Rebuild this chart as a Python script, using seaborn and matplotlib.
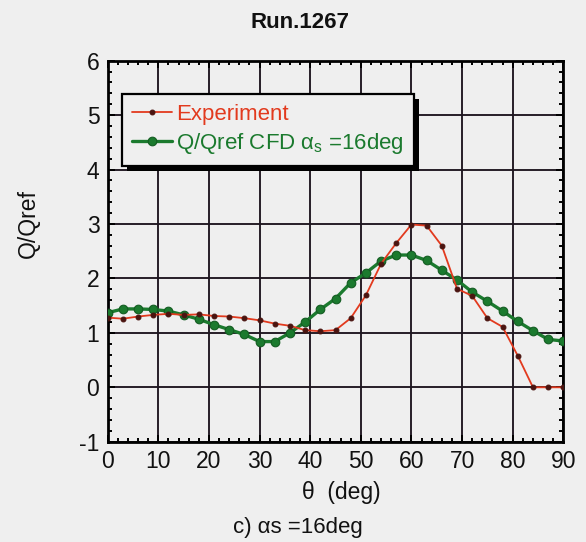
import matplotlib
matplotlib.use("Agg")
import matplotlib.pyplot as plt
from matplotlib.patches import Rectangle
from matplotlib.ticker import MultipleLocator
import numpy as np
import pandas as pd
import seaborn as sns

# Heat-flux ratio along the circumference, run 1267
theta_deg = [0, 3, 6, 9, 12, 15, 18, 21, 24, 27, 30, 33, 36, 39, 42, 45,
             48, 51, 54, 57, 60, 63, 66, 69, 72, 75, 78, 81, 84, 87, 90]
experiment = [1.28, 1.26, 1.30, 1.33, 1.35, 1.33, 1.34, 1.31, 1.30, 1.27,
              1.23, 1.17, 1.13, 1.05, 1.03, 1.05, 1.27, 1.69, 2.27, 2.65,
              2.99, 2.97, 2.60, 1.81, 1.68, 1.27, 1.11, 0.58, 0.0, 0.0, 0.0]
cfd = [1.37, 1.44, 1.44, 1.43, 1.40, 1.33, 1.25, 1.15, 1.06, 0.97,
       0.84, 0.84, 1.00, 1.20, 1.43, 1.63, 1.92, 2.10, 2.32, 2.43,
       2.43, 2.33, 2.15, 1.97, 1.75, 1.58, 1.40, 1.21, 1.04, 0.88, 0.85]

x_ticks = [0, 10, 20, 30, 40, 50, 60, 70, 80, 90]
y_ticks = [-1, 0, 1, 2, 3, 4, 5, 6]

label_exp = "Experiment"
label_cfd = r"Q/Qref CFD $\alpha_s$ =16deg"

RED = "#e23a1e"
GREEN = "#1b7a2e"
BG = "#efefef"
INK = "#1e1620"

sns.set_theme(style="ticks")
plt.rcParams["font.family"] = ["Liberation Sans", "DejaVu Sans"]
plt.rcParams["mathtext.fontset"] = "custom"
plt.rcParams["mathtext.rm"] = "Liberation Sans"
plt.rcParams["mathtext.it"] = "Liberation Sans"
plt.rcParams["axes.unicode_minus"] = False

df = pd.DataFrame({"theta": theta_deg, "exp": experiment, "cfd": cfd})

fig = plt.figure(figsize=(5.86, 5.42), dpi=100, facecolor=BG)
ax = fig.add_axes([0.1838, 0.185, 0.7775, 0.703])
ax.set_facecolor(BG)

sns.lineplot(data=df, x="theta", y="cfd", ax=ax, color=GREEN, lw=2.4,
             marker="o", markersize=6.2, markerfacecolor=GREEN,
             markeredgecolor="#145c22", markeredgewidth=0.8,
             label=label_cfd, zorder=3)
sns.lineplot(data=df, x="theta", y="exp", ax=ax, color=RED, lw=1.3,
             marker="o", markersize=3.5, markerfacecolor="#4a1410",
             markeredgecolor="#4a1410", label=label_exp, zorder=4)

ax.set_xlim(0, 90)
ax.set_ylim(-1, 6)
ax.set_xticks(x_ticks)
ax.set_yticks(y_ticks)
ax.xaxis.set_minor_locator(MultipleLocator(2))
ax.yaxis.set_minor_locator(MultipleLocator(0.2))
ax.tick_params(which="both", direction="in", top=True, right=True,
               color="black", width=1.4)
ax.tick_params(which="major", length=5, labelsize=16.5, pad=6,
               labelcolor="#111111")
ax.tick_params(which="minor", length=2.8)
for s in ax.spines.values():
    s.set_linewidth(2.0)
    s.set_color("black")
ax.grid(True, which="major", color=INK, lw=1.35)
ax.set_axisbelow(True)
ax.set_xlabel("")
ax.set_ylabel("")

# legend: experiment first, boxed with a solid drop shadow
handles, labels = ax.get_legend_handles_labels()
order = [labels.index(label_exp), labels.index(label_cfd)]
leg = ax.legend([handles[i] for i in order], [labels[i] for i in order],
                loc="upper left", bbox_to_anchor=(0.031, 0.912),
                borderaxespad=0, fontsize=16, frameon=True, fancybox=False,
                framealpha=1, facecolor=BG, edgecolor="black",
                handlelength=1.8, handletextpad=0.2, labelspacing=0.25,
                borderpad=0.45)
leg.get_frame().set_linewidth(1.6)
leg.get_texts()[0].set_color(RED)
leg.get_texts()[1].set_color(GREEN)
leg.set_zorder(6)

fig.canvas.draw()
bb = leg.get_frame().get_window_extent(fig.canvas.get_renderer())
inv = ax.transAxes.inverted()
(x0, y0), (x1, y1) = inv.transform([[bb.x0, bb.y0], [bb.x1, bb.y1]])
dx = 5 / ax.get_window_extent().width
dy = 5 / ax.get_window_extent().height
ax.add_patch(Rectangle((x0 + dx, y0 - dy), x1 - x0, y1 - y0,
                       transform=ax.transAxes, facecolor="black",
                       edgecolor="none", zorder=5.9, clip_on=False))

fig.text(300 / 586, 1 - 23 / 542, "Run.1267", ha="center", va="center",
         fontsize=16, fontweight="bold", color="#111111")
fig.text(28 / 586, 1 - 223 / 542, "Q/Qref", ha="center", va="center",
         rotation=90, fontsize=16.5, color="#111111")
fig.text(341 / 586, 1 - 493 / 542, "θ  (deg)", ha="center", va="center",
         fontsize=16.5, color="#111111")
fig.text(298 / 586, 1 - 527 / 542, "c) αs =16deg", ha="center",
         va="center", fontsize=16, color="#111111")

fig.savefig("out.png", dpi=100, facecolor=BG)
